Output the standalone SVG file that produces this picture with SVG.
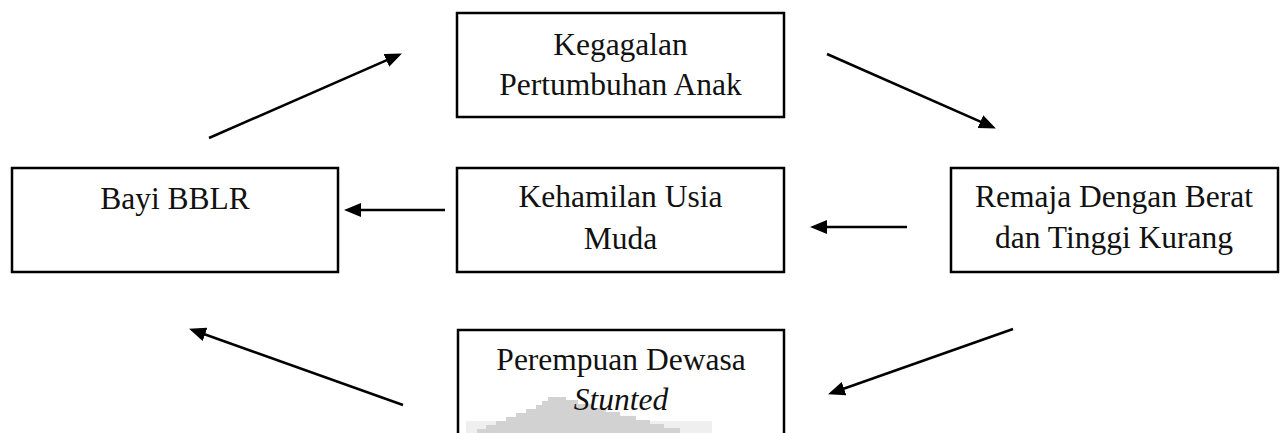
<svg xmlns="http://www.w3.org/2000/svg" width="1284" height="433" viewBox="0 0 1284 433">
<style>
.box{fill:#fff;stroke:#000;stroke-width:2.5}
.t{font-family:"Liberation Serif","Times New Roman",serif;font-size:31.5px;fill:#111;text-anchor:middle}
.c{stroke:#000;stroke-width:2.5;fill:none}
</style>
<defs>
<marker id="ah" markerUnits="userSpaceOnUse" markerWidth="19" markerHeight="15" refX="8" refY="7" orient="auto">
<path d="M0,0 L17,7 L0,14 z" fill="#000"/>
</marker>
</defs>
<rect width="1284" height="433" fill="#fff"/>
<g id="node-kegagalan">
<rect class="box" x="457" y="13" width="327" height="104"/>
<text class="t" x="620.5" y="55">Kegagalan</text>
<text class="t" x="620.5" y="95">Pertumbuhan Anak</text>
</g>
<g id="node-bayi">
<rect class="box" x="12" y="168" width="326" height="104"/>
<text class="t" x="175" y="209">Bayi BBLR</text>
</g>
<g id="node-kehamilan">
<rect class="box" x="457" y="168" width="327" height="104"/>
<text class="t" x="620.5" y="207">Kehamilan Usia</text>
<text class="t" x="620.5" y="249">Muda</text>
</g>
<g id="node-remaja">
<rect class="box" x="951" y="168" width="327" height="104"/>
<text class="t" x="1114" y="207">Remaja Dengan Berat</text>
<text class="t" x="1114" y="248">dan Tinggi Kurang</text>
</g>
<g id="node-perempuan">
<rect class="box" x="458" y="330" width="326" height="130"/>
<rect x="466" y="421" width="246" height="12" fill="#efefef"/>
<polygon fill="#d2d2d2" points="548,397 566,397 566,400 578,400 578,404 592,404 592,408 606,408 606,412 620,412 620,416 636,416 636,420 650,420 650,424 664,424 664,428 680,428 680,433 477,433 477,429 486,429 486,425 496,425 496,421 506,421 506,417 516,417 516,413 526,413 526,409 536,409 536,405 542,405 542,401 548,401"/>
<text class="t" x="621" y="370">Perempuan Dewasa</text>
<text class="t" x="621" y="410" font-style="italic">Stunted</text>
</g>
<g id="connectors">
<line class="c" x1="209" y1="138" x2="393.7" y2="57.2" marker-end="url(#ah)"/>
<line class="c" x1="827" y1="54" x2="987.7" y2="124.8" marker-end="url(#ah)"/>
<line class="c" x1="445" y1="210" x2="353" y2="210" marker-end="url(#ah)"/>
<line class="c" x1="907" y1="227" x2="819" y2="227" marker-end="url(#ah)"/>
<line class="c" x1="1013" y1="329" x2="836.5" y2="391.3" marker-end="url(#ah)"/>
<line class="c" x1="403" y1="405" x2="197.5" y2="331.7" marker-end="url(#ah)"/>
</g>
</svg>
